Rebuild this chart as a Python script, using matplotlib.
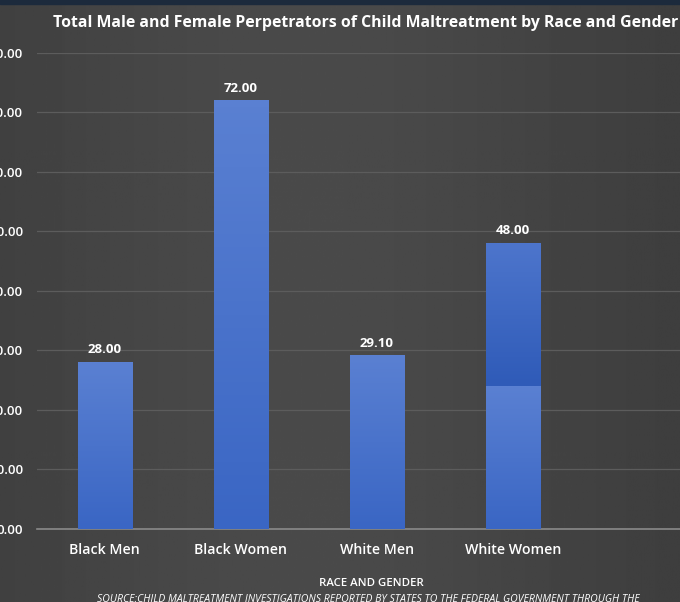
# -*- coding: utf-8 -*-
""" Perpetrators of child maltreatment bar chart """
import numpy as np
import matplotlib.pyplot as plt
from matplotlib.colors import LinearSegmentedColormap

# -----------------------------------------------------------------------------
# Data
# -----------------------------------------------------------------------------
categories = ['Black Men', 'Black Women', 'White Men', 'White Women']
values = [28.00, 72.00, 29.10, 48.00]
# level where the shading of the White Women bar changes (seen in the picture)
ww_split = 24.0
yticks = [0, 10, 20, 30, 40, 50, 60, 70, 80]

TITLE = 'Total Male and Female Perpetrators of Child Maltreatment by Race and Gender'
XLABEL = 'RACE AND GENDER'
SOURCE = 'SOURCE:CHILD MALTREATMENT INVESTIGATIONS REPORTED BY STATES TO THE FEDERAL GOVERNMENT THROUGH THE'

FONT = ['Open Sans', 'DejaVu Sans']

# -----------------------------------------------------------------------------
# Figure
# -----------------------------------------------------------------------------
fig = plt.figure(figsize=(6.8, 6.02), dpi=100)

# background gradient (dark grey, slightly lighter in the middle)
bg = fig.add_axes([0, 0, 1, 1])
grad = np.linspace(0, 1, 256)
bgimg = 0.23 + 0.06 * np.exp(-((grad - 0.45) / 0.45) ** 2)
bg.imshow(np.tile(bgimg, (2, 1)), cmap='gray', vmin=0, vmax=1,
          aspect='auto', extent=[0, 1, 0, 1])
bg.axhspan(0.993, 1.0, color='#1c2a3c')
bg.set_xlim(0, 1)
bg.set_ylim(0, 1)
bg.axis('off')

ax = fig.add_axes([0.054, 0.1213, 0.946, 0.7907])
ax.patch.set_alpha(0)

x = np.arange(len(categories))
bars = ax.bar(x, values, width=0.4, color='#4672cc', edgecolor='none', zorder=3)

light = LinearSegmentedColormap.from_list('b', ['#3a66c4', '#5a80d2'])
dark = LinearSegmentedColormap.from_list('d', ['#2f5bb8', '#4d75cc'])
shade = np.linspace(0.0, 1.0, 64).reshape(-1, 1)

# subtle vertical shading on each bar
for i, b in enumerate(bars):
    bx, by = b.get_x(), b.get_y()
    w, h = b.get_width(), b.get_height()
    if categories[i] == 'White Women':
        ax.imshow(shade, cmap=light, origin='lower', aspect='auto',
                  extent=[bx, bx + w, by, ww_split], zorder=4)
        ax.imshow(shade, cmap=dark, origin='lower', aspect='auto',
                  extent=[bx, bx + w, ww_split, by + h], zorder=4)
    else:
        ax.imshow(shade, cmap=light, origin='lower', aspect='auto',
                  extent=[bx, bx + w, by, by + h], zorder=4)

for xi, v in zip(x, values):
    ax.text(xi, v + 1.0, '%.2f' % v, ha='center', va='bottom', color='white',
            fontsize=9.5, fontweight='bold', family=FONT, zorder=5)

ax.set_xlim(-0.5, 4.23)
ax.set_ylim(0, 80)
ax.set_yticks(yticks)
ax.set_yticklabels(['%.2f' % t for t in yticks], color='white', fontsize=9.5,
                   family=FONT, fontweight='semibold')
ax.set_xticks(x)
ax.set_xticklabels(categories, color='white', fontsize=10.2, family=FONT,
                   fontweight='semibold')
ax.tick_params(axis='both', length=0)
ax.tick_params(axis='y', pad=10)
ax.tick_params(axis='x', pad=10)

ax.grid(axis='y', color='#5c5c5c', linewidth=0.9, zorder=0)
for s in ['top', 'right', 'left']:
    ax.spines[s].set_visible(False)
ax.spines['bottom'].set_color('#8a8a8a')
ax.spines['bottom'].set_linewidth(1.2)

fig.text(0.537, 0.962, TITLE, ha='center', va='center', color='white',
         fontsize=11.4, fontweight='bold', family=FONT)
fig.text(0.546, 0.031, XLABEL, ha='center', va='center', color='white',
         fontsize=8.2, family=FONT, fontweight='semibold')
fig.text(0.541, 0.004, SOURCE, ha='center', va='center', color='white',
         fontsize=7.6, style='italic', family=FONT)

plt.savefig('out.png', dpi=100)
